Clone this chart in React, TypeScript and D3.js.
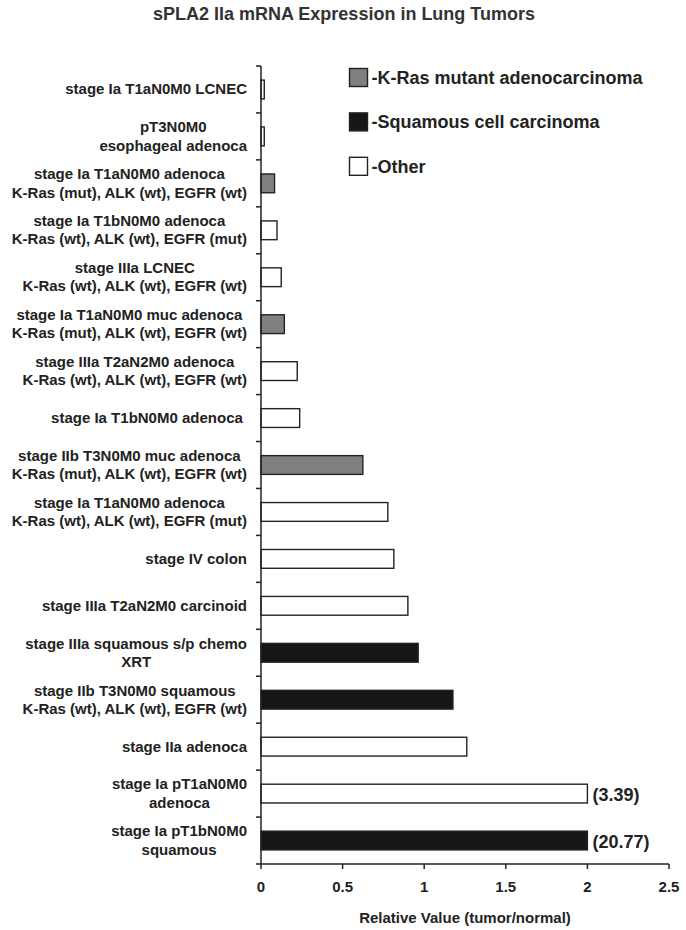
import React, { useEffect, useRef } from 'react';
import * as d3 from 'd3';

// categories, top to bottom (each entry = lines of the label)
const categories: string[][] = [
    ['stage Ia T1aN0M0 LCNEC'],
    ['pT3N0M0', 'esophageal adenoca'],
    ['stage Ia T1aN0M0 adenoca', 'K-Ras (mut), ALK (wt), EGFR (wt)'],
    ['stage Ia T1bN0M0 adenoca', 'K-Ras (wt), ALK (wt), EGFR (mut)'],
    ['stage IIIa LCNEC', 'K-Ras (wt), ALK (wt), EGFR (wt)'],
    ['stage Ia T1aN0M0 muc adenoca', 'K-Ras (mut), ALK (wt), EGFR (wt)'],
    ['stage IIIa T2aN2M0 adenoca', 'K-Ras (wt), ALK (wt), EGFR (wt)'],
    ['stage Ia T1bN0M0 adenoca\u00a0'],
    ['stage IIb T3N0M0 muc adenoca', 'K-Ras (mut), ALK (wt), EGFR (wt)'],
    ['stage Ia T1aN0M0 adenoca', 'K-Ras (wt), ALK (wt), EGFR (mut)'],
    ['stage IV colon'],
    ['stage IIIa T2aN2M0 carcinoid'],
    ['stage IIIa squamous s/p chemo', 'XRT'],
    ['stage IIb T3N0M0 squamous', 'K-Ras (wt), ALK (wt), EGFR (wt)'],
    ['stage IIa adenoca'],
    ['stage Ia pT1aN0M0', 'adenoca'],
    ['stage Ia pT1bN0M0', 'squamous'],
];
const values = [0.02, 0.02, 0.083, 0.098, 0.124, 0.143, 0.222, 0.237, 0.624, 0.777, 0.814, 0.9, 0.963, 1.176, 1.261, 3.39, 20.77];
// 0 = K-Ras mutant adenocarcinoma, 1 = squamous, 2 = other
const groups = [2, 2, 0, 2, 2, 0, 2, 2, 0, 2, 2, 2, 1, 1, 2, 2, 1];
const legendLabels = ['-K-Ras mutant adenocarcinoma', '-Squamous cell carcinoma', '-Other'];
const groupColors = ['#808080', '#161616', '#ffffff'];
const xTicks = [0, 0.5, 1, 1.5, 2, 2.5];
const axisCap = 2;

const App = () => {
    const ref = useRef<SVGSVGElement>(null);

    useEffect(() => {
        const svg = d3.select(ref.current);
        svg.selectAll('*').remove();
        const font = 'Liberation Sans, Arial, sans-serif';
        const ink = '#222';

        const x = d3.scaleLinear().domain([0, 2.5]).range([261, 669]);
        const y = d3.scaleBand<number>()
            .domain(d3.range(categories.length))
            .range([66, 864])
            .paddingInner(0.6)
            .paddingOuter(0.3);
        const step = y.step();

        // title
        svg.append('text')
            .attr('x', 344).attr('y', 20)
            .attr('text-anchor', 'middle')
            .attr('font-family', font).attr('font-weight', 'bold')
            .attr('font-size', 18).attr('fill', '#333')
            .text('sPLA2 IIa mRNA Expression in Lung Tumors');

        // bars
        svg.append('g').selectAll('rect')
            .data(values)
            .enter()
            .append('rect')
            .attr('x', x(0))
            .attr('y', (d, i) => y(i) as number)
            .attr('width', d => x(Math.min(d, axisCap)) - x(0))
            .attr('height', y.bandwidth())
            .attr('fill', (d, i) => groupColors[groups[i]])
            .attr('stroke', ink)
            .attr('stroke-width', 1.4);

        // values beyond the axis
        svg.append('g').selectAll('text')
            .data(values.map((v, i) => ({ v, i })).filter(d => d.v > axisCap))
            .enter()
            .append('text')
            .attr('x', x(axisCap) + 5)
            .attr('y', d => (y(d.i) as number) + y.bandwidth() / 2 + 7)
            .attr('font-family', font).attr('font-weight', 'bold')
            .attr('font-size', 18).attr('fill', ink)
            .text(d => `(${d.v.toFixed(2)})`);

        // y axis
        const yAxis = svg.append('g').attr('stroke', ink).attr('stroke-width', 1.5);
        yAxis.append('line')
            .attr('x1', x(0)).attr('x2', x(0))
            .attr('y1', 66).attr('y2', 864);
        yAxis.selectAll('.tick')
            .data(d3.range(categories.length + 1))
            .enter()
            .append('line')
            .attr('x1', x(0) - 5).attr('x2', x(0))
            .attr('y1', d => 66 + d * step).attr('y2', d => 66 + d * step);

        // x axis
        const xAxis = svg.append('g');
        xAxis.append('line')
            .attr('x1', x(0)).attr('x2', x(2.5))
            .attr('y1', 864).attr('y2', 864)
            .attr('stroke', ink).attr('stroke-width', 1.5);
        xAxis.selectAll('line.tick')
            .data(xTicks)
            .enter()
            .append('line')
            .attr('class', 'tick')
            .attr('x1', d => x(d)).attr('x2', d => x(d))
            .attr('y1', 864).attr('y2', 869)
            .attr('stroke', ink).attr('stroke-width', 1.5);
        xAxis.selectAll('text')
            .data(xTicks)
            .enter()
            .append('text')
            .attr('x', d => x(d)).attr('y', 892)
            .attr('text-anchor', 'middle')
            .attr('font-family', font).attr('font-weight', 'bold')
            .attr('font-size', 15).attr('fill', ink)
            .text(d => String(d));
        svg.append('text')
            .attr('x', x(1.25)).attr('y', 923)
            .attr('text-anchor', 'middle')
            .attr('font-family', font).attr('font-weight', 'bold')
            .attr('font-size', 15).attr('fill', ink)
            .text('Relative Value (tumor/normal)');

        // category labels: lines centred on each other, block right aligned
        const labelRight = 247;
        const lineGap = 18.3;
        categories.forEach((lines, i) => {
            const cy = (y(i) as number) + y.bandwidth() / 2;
            const g = svg.append('g');
            const texts = lines.map((line, j) => g.append('text')
                .attr('y', cy + 5 + (j - (lines.length - 1) / 2) * lineGap)
                .attr('text-anchor', 'middle')
                .attr('font-family', font).attr('font-weight', 'bold')
                .attr('font-size', 15).attr('fill', ink)
                .text(line));
            const w = d3.max(texts, t => (t.node() as SVGTextElement).getComputedTextLength()) || 0;
            texts.forEach(t => t.attr('x', labelRight - w / 2));
        });

        // legend
        const legend = svg.append('g').selectAll('g')
            .data(legendLabels)
            .enter()
            .append('g')
            .attr('transform', (d, i) => `translate(349.5,${68.5 + i * 44.4})`);
        legend.append('rect')
            .attr('width', 18).attr('height', 18)
            .attr('fill', (d, i) => groupColors[i])
            .attr('stroke', ink).attr('stroke-width', 1.4);
        legend.append('text')
            .attr('x', 22).attr('y', 15.5)
            .attr('font-family', font).attr('font-weight', 'bold')
            .attr('font-size', 18).attr('fill', ink)
            .text(d => d);
    }, []);

    return (
        <svg ref={ref} width={686} height={930}
            style={{ position: 'absolute', left: 0, top: 0, background: '#fff' }} />
    );
};

export default App;
